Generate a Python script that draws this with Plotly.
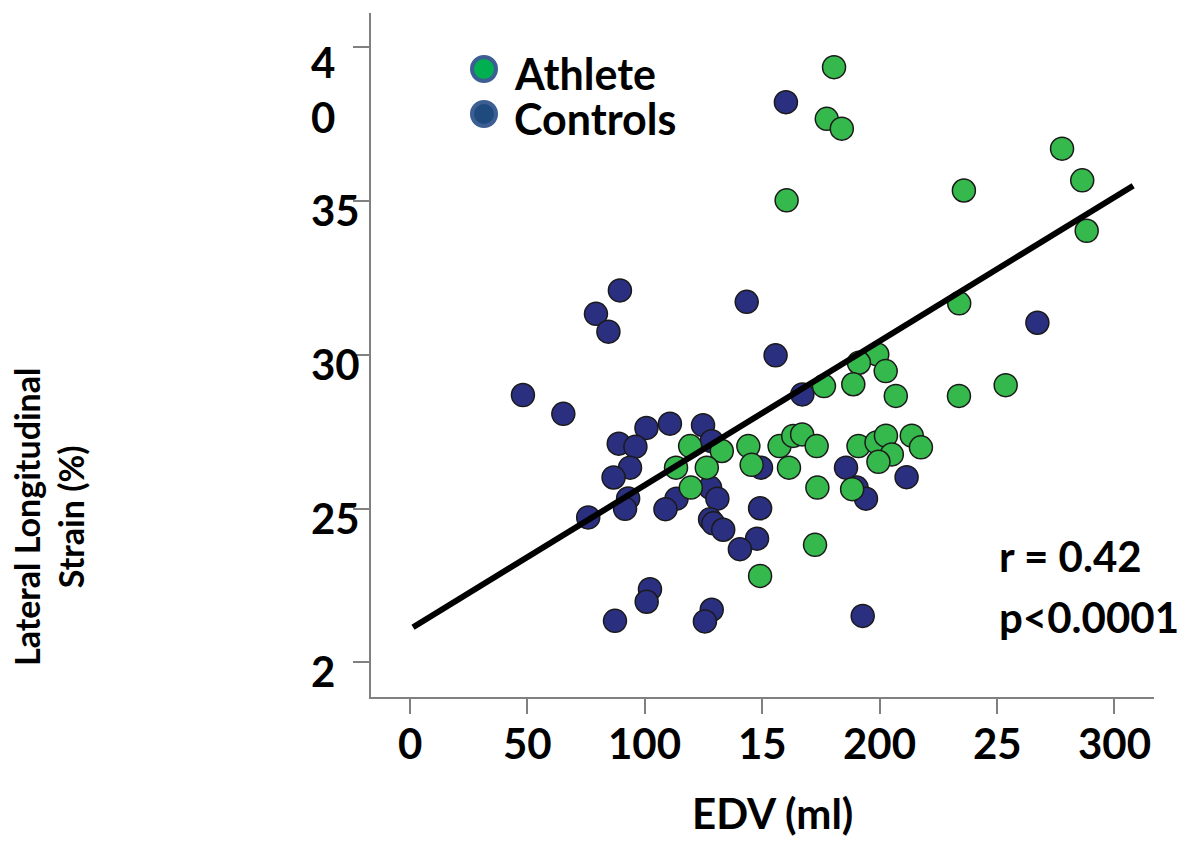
import plotly.graph_objects as go

# ---------------- data ----------------
controls_edv = [160.1, 143.4, 267.2, 155.7, 89.4, 79.2, 84.5, 48.1, 65.3, 100.7,
                110.7, 124.8, 88.9, 96.0, 128.5, 167.1, 93.7, 86.7, 149.5, 185.7,
                211.5, 190.2, 194.2, 127.8, 92.9, 91.6, 113.5, 108.8, 130.9, 149.1,
                75.9, 127.8, 129.2, 133.4, 147.8, 140.5, 102.2, 100.8, 87.3, 128.5,
                125.6, 192.8]
controls_strain = [38.21, 31.72, 31.04, 29.98, 32.09, 31.33, 30.75, 28.69, 28.08, 27.62,
                   27.76, 27.71, 27.11, 27.01, 27.19, 28.71, 26.33, 26.01, 26.33, 26.33,
                   26.02, 25.68, 25.32, 25.68, 25.33, 24.99, 25.32, 24.98, 25.32, 25.01,
                   24.71, 24.65, 24.52, 24.31, 24.02, 23.68, 22.38, 21.97, 21.35, 21.71,
                   21.33, 21.51]

athlete_edv = [180.6, 177.5, 183.9, 277.7, 286.3, 235.9, 160.4, 288.2, 233.9, 199.0,
               191.2, 202.6, 176.3, 188.8, 206.9, 233.8, 253.7, 119.3, 132.8, 144.1,
               157.4, 163.2, 167.0, 173.2, 191.0, 198.7, 202.7, 213.7, 217.6, 205.2,
               199.5, 113.3, 126.4, 145.5, 161.4, 119.6, 173.5, 188.3, 172.5, 149.1]
athlete_strain = [39.35, 37.67, 37.35, 36.70, 35.67, 35.34, 35.02, 34.03, 31.67, 30.01,
                  29.74, 29.47, 28.98, 29.04, 28.66, 28.66, 29.01, 27.03, 26.87, 27.03,
                  27.03, 27.36, 27.41, 27.03, 27.03, 27.15, 27.37, 27.37, 26.99, 26.76,
                  26.52, 26.33, 26.33, 26.42, 26.33, 25.68, 25.68, 25.63, 23.82, 22.81]

fit_x = [1.3, 308.0]
fit_intercept = 21.08
fit_slope = 0.0468

x_tick_vals = [0, 50, 100, 150, 200, 250, 300]
x_tick_text = ["0", "50", "100", "15", "200", "25", "300"]
y_tick_vals = [20, 25, 30, 35, 40]
y_tick_text = ["2", "25", "30", "35", "4<br>0"]

legend_names = ["Athlete", "Controls"]
stats_text = ["r = 0.42", "p<0.0001"]
x_title = "EDV (ml)"
y_title = "Lateral Longitudinal<br>Strain (%)"

# ---------------- styles ----------------
W, H = 1188, 841
L, R, T, B = 371, 1154, 13, 697          # plot area in pixels
FONT = "Lato"
GREEN = "#36b94c"
NAVY = "#2b2f80"
AXIS = "#808080"
TICKFONT = dict(family=FONT, size=42, color="black", weight="bold")


def px(xp):
    return (xp - L) / (R - L)


def py(yp):
    return (B - yp) / (B - T)


fig = go.Figure()

fig.add_trace(go.Scatter(
    x=controls_edv, y=controls_strain, mode="markers", name=legend_names[1],
    marker=dict(size=23, color=NAVY, line=dict(color="#1a1a1a", width=1.5)),
    showlegend=False))
fig.add_trace(go.Scatter(
    x=athlete_edv, y=athlete_strain, mode="markers", name=legend_names[0],
    marker=dict(size=23, color=GREEN, line=dict(color="#1a1a1a", width=1.5)),
    showlegend=False))
fig.add_trace(go.Scatter(
    x=fit_x, y=[fit_intercept + fit_slope * v for v in fit_x], mode="lines",
    line=dict(color="black", width=6), showlegend=False, hoverinfo="skip"))

annotations = []
# y tick labels (left aligned, sitting a little below each tick)
for val, txt in zip(y_tick_vals, y_tick_text):
    multi = "<br>" in txt
    annotations.append(dict(text=txt, xref="paper", yref="y", x=px(309), y=val,
                            yshift=-42 if multi else -9, align="left",
                            xanchor="left", yanchor="middle", showarrow=False,
                            font=TICKFONT))
# x tick labels
for val, txt in zip(x_tick_vals, x_tick_text):
    annotations.append(dict(text=txt, xref="x", yref="paper", x=val, y=py(743),
                            xanchor="center", yanchor="middle", showarrow=False,
                            font=TICKFONT))
# legend texts
for txt, yp in zip(legend_names, [73, 119]):
    annotations.append(dict(text=txt, xref="paper", yref="paper", x=px(512), y=py(yp),
                            xanchor="left", yanchor="middle", showarrow=False,
                            font=dict(family=FONT, size=43, color="black", weight="bold")))
# stats
for txt, yp in zip(stats_text, [556, 617]):
    annotations.append(dict(text=txt, xref="paper", yref="paper", x=px(997), y=py(yp),
                            xanchor="left", yanchor="middle", showarrow=False,
                            font=dict(family=FONT, size=42, color="black", weight="bold")))
# axis titles
annotations.append(dict(text=x_title, xref="paper", yref="paper", x=px(772), y=py(813),
                        xanchor="center", yanchor="middle", showarrow=False,
                        font=dict(family=FONT, size=42, color="black", weight="bold")))
annotations.append(dict(text=y_title, xref="paper", yref="paper", x=px(48), y=py(517),
                        xanchor="center", yanchor="middle", textangle=-90, showarrow=False,
                        font=dict(family=FONT, size=34, color="black", weight="bold")))

shapes = []
for fill, yp in zip(["#00b050", "#1f4a7e"], [69, 114]):
    shapes.append(dict(type="circle", xref="paper", yref="paper",
                       xsizemode="pixel", ysizemode="pixel",
                       xanchor=px(484), yanchor=py(yp), x0=-12, x1=12, y0=-12, y1=12,
                       fillcolor=fill, line=dict(color="#3c5e92", width=4)))

fig.update_layout(
    width=W, height=H,
    margin=dict(l=L, r=W - R, t=T, b=H - B, pad=0),
    paper_bgcolor="white", plot_bgcolor="white",
    font=dict(family=FONT, color="black"),
    annotations=annotations, shapes=shapes,
    xaxis=dict(range=[(L - 410) / 2.348, (R - 410) / 2.348], tickvals=x_tick_vals,
               showticklabels=False,
               showgrid=False, zeroline=False, showline=True, linecolor=AXIS, linewidth=2,
               ticks="outside", ticklen=15, tickwidth=2, tickcolor=AXIS),
    yaxis=dict(range=[18.873, 41.11], tickvals=y_tick_vals, showticklabels=False,
               showgrid=False, zeroline=False, showline=True, linecolor=AXIS, linewidth=2,
               ticks="outside", ticklen=16, tickwidth=2, tickcolor=AXIS),
)

fig.write_html("out.html")
